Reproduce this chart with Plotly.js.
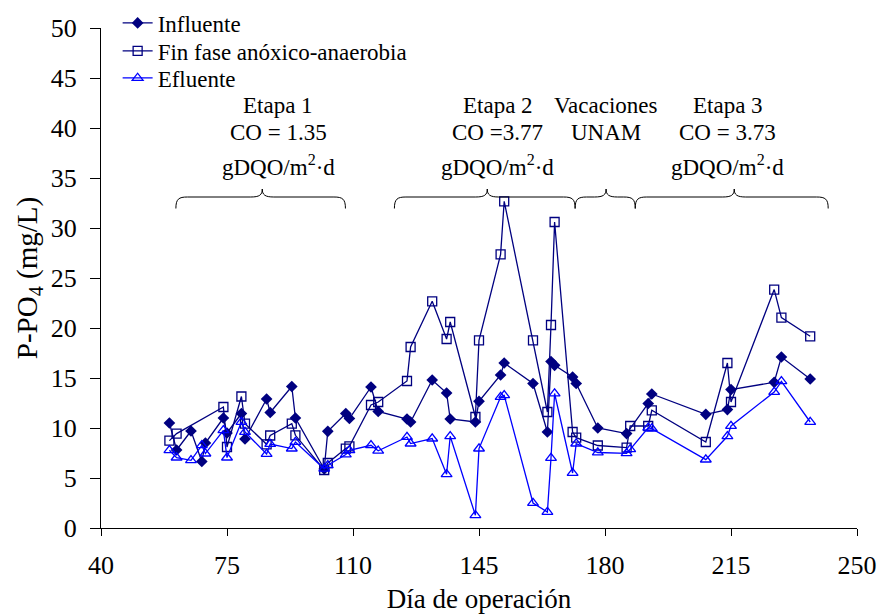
<!DOCTYPE html>
<html>
<head>
<meta charset="utf-8">
<script src="https://cdn.plot.ly/plotly-3.0.1.min.js"></script>
<style>html,body{margin:0;padding:0;background:#fff;}#chart{width:882px;height:614px;}</style>
</head>
<body>
<div id="chart"></div>
<script>
// Día de operación
var days = [59, 61, 65, 68, 69, 74, 75, 79, 80, 86, 87, 93, 94, 102, 103, 108, 109, 115, 117, 125, 126, 132, 136, 137, 144, 145, 151, 152, 160, 164, 165, 166, 171, 172, 178, 186, 187, 192, 193, 208, 214, 215, 227, 229, 237];
// P-PO4 (mg/L)
var influente = [10.5, 7.8, 9.7, 6.65, 8.5, 11.0, 9.5, 11.45, 8.9, 12.9, 11.55, 14.15, 11.0, 5.9, 9.67, 11.45, 10.95, 14.1, 11.65, 10.9, 10.6, 14.8, 13.5, 10.9, 10.6, 12.67, 15.3, 16.5, 14.45, 9.6, 16.65, 16.27, 15.1, 14.45, 10.0, 9.44, null, 12.45, 13.4, 11.37, 11.84, 13.84, 14.57, 17.1, 14.9];
var finFase = [8.74, 9.44, null, null, null, 12.1, 8.1, 13.15, 10.44, 8.37, 9.25, 10.44, 9.27, 5.8, 6.5, 7.94, 8.17, 12.3, 12.6, 14.7, 18.1, 22.67, 18.9, 20.6, 11.1, 18.77, 27.37, 32.67, 18.77, 11.6, 20.3, 30.6, 9.6, 9.04, 8.25, 8.04, 10.2, 10.2, 11.77, 8.6, 16.5, 12.6, 23.84, 21.04, 19.17];
var efluente = [7.77, 7.04, 6.77, 8.27, 7.44, 9.77, 7.04, 10.6, 9.6, 7.4, 8.4, 7.94, 8.6, 5.92, 6.27, 7.35, 7.77, 8.27, 7.72, 9.1, 8.44, 8.94, 5.37, 9.17, 1.27, 7.94, 13.1, 13.27, 2.5, 1.6, 7.0, 13.45, 5.5, 8.44, 7.55, 7.47, 7.87, 10.02, 9.94, 6.84, 9.17, 10.2, 13.6, 14.67, 10.6];
var seriesNames = ['Influente', 'Fin fase anóxico-anaerobia', 'Efluente'];
var xTicks = [40, 75, 110, 145, 180, 215, 250];
var yTicks = [0, 5, 10, 15, 20, 25, 30, 35, 40, 45, 50];

// Stage labels
var stageLines = [
  ['Etapa 1', 'CO = 1.35', 'gDQO/m<sup>2</sup>·d'],
  ['Etapa 2', 'CO =3.77', 'gDQO/m<sup>2</sup>·d'],
  ['Vacaciones', 'UNAM', ''],
  ['Etapa 3', 'CO = 3.73', 'gDQO/m<sup>2</sup>·d']
];
var stageCenters = [89.3, 150.2, 180.2, 214.1];
var braces = [[60.8, 84.8, 107.9], [121.5, 147.3, 171.7], [171.7, 180.3, 188.4], [188.4, 215.9, 242.0]];

var FONT = 'Liberation Serif';

var traces = [
  {x: days, y: influente, name: seriesNames[0], legend: 'legend', mode: 'lines+markers', connectgaps: true,
   line: {color: '#000080', width: 1.3}, marker: {symbol: 'diamond', size: 9, color: '#000080'}},
  {x: days, y: finFase, name: seriesNames[1], legend: 'legend2', mode: 'lines+markers', connectgaps: true,
   line: {color: '#000080', width: 1.3}, marker: {symbol: 'square-open', size: 9, color: '#000080', line: {width: 1.3}}},
  {x: days, y: efluente, name: seriesNames[2], legend: 'legend3', mode: 'lines+markers', connectgaps: true,
   line: {color: '#0000FF', width: 1.3}, marker: {symbol: 'triangle-up-open', size: 9.5, color: '#0000FF', line: {width: 1.3}}}
];

var annotations = [];
var lineY = [42.25, 39.6, 36.25];
stageLines.forEach(function (lines, i) {
  lines.forEach(function (t, j) {
    if (!t) return;
    annotations.push({x: stageCenters[i], y: lineY[j], xref: 'x', yref: 'y', text: t, showarrow: false,
      font: {family: FONT, size: 23, color: '#000'}, xanchor: 'center', yanchor: 'middle'});
  });
});

function bracePath(x0, xm, x1) {
  var yb = 31.95, yt = 33.1, ytip = 33.9, c = 3.2;
  return 'M' + x0 + ',' + yb +
    ' C' + x0 + ',' + (yt - 0.2) + ' ' + (x0 + 0.8) + ',' + yt + ' ' + (x0 + c) + ',' + yt +
    ' L' + (xm - c) + ',' + yt +
    ' C' + (xm - 0.8) + ',' + yt + ' ' + xm + ',' + (yt + 0.2) + ' ' + xm + ',' + ytip +
    ' C' + xm + ',' + (yt + 0.2) + ' ' + (xm + 0.8) + ',' + yt + ' ' + (xm + c) + ',' + yt +
    ' L' + (x1 - c) + ',' + yt +
    ' C' + (x1 - 0.8) + ',' + yt + ' ' + x1 + ',' + (yt - 0.2) + ' ' + x1 + ',' + yb;
}
var shapes = braces.map(function (b) {
  return {type: 'path', xref: 'x', yref: 'y', path: bracePath(b[0], b[1], b[2]),
    line: {color: '#000', width: 1}};
});

function legendBox(yc) {
  return {x: 0.022, y: yc, xanchor: 'left', yanchor: 'middle', bgcolor: 'rgba(0,0,0,0)',
    font: {family: FONT, size: 23, color: '#000'}, itemwidth: 30};
}

var layout = {
  width: 882, height: 614,
  margin: {l: 101, r: 25, t: 28, b: 86, autoexpand: false},
  paper_bgcolor: '#fff', plot_bgcolor: '#fff',
  font: {family: FONT, color: '#000'},
  showlegend: true,
  legend: legendBox(1.01),
  legend2: legendBox(0.954),
  legend3: legendBox(0.90),
  xaxis: {range: [40, 250], tickvals: xTicks, ticktext: xTicks.map(String),
    showgrid: false, zeroline: false, showline: true, linecolor: '#000', linewidth: 1,
    ticks: 'outside', ticklen: 7, tickcolor: '#000', tickwidth: 1,
    tickfont: {family: FONT, size: 26, color: '#000'}, ticklabelstandoff: 7,
    title: {text: 'Día de operación', font: {family: FONT, size: 27, color: '#000'}, standoff: 10}},
  yaxis: {range: [0, 50], tickvals: yTicks, ticktext: yTicks.map(String),
    showgrid: false, zeroline: false, showline: true, linecolor: '#000', linewidth: 1,
    ticks: 'outside', ticklen: 10, tickcolor: '#000', tickwidth: 1,
    tickfont: {family: FONT, size: 26, color: '#000'}, ticklabelstandoff: 8,
    title: {text: 'P-PO<sub>4</sub> (mg/L)', font: {family: FONT, size: 29, color: '#000'}, standoff: 4}},
  annotations: annotations,
  shapes: shapes
};

Plotly.newPlot('chart', traces, layout, {displayModeBar: false, staticPlot: true});
</script>
</body>
</html>
